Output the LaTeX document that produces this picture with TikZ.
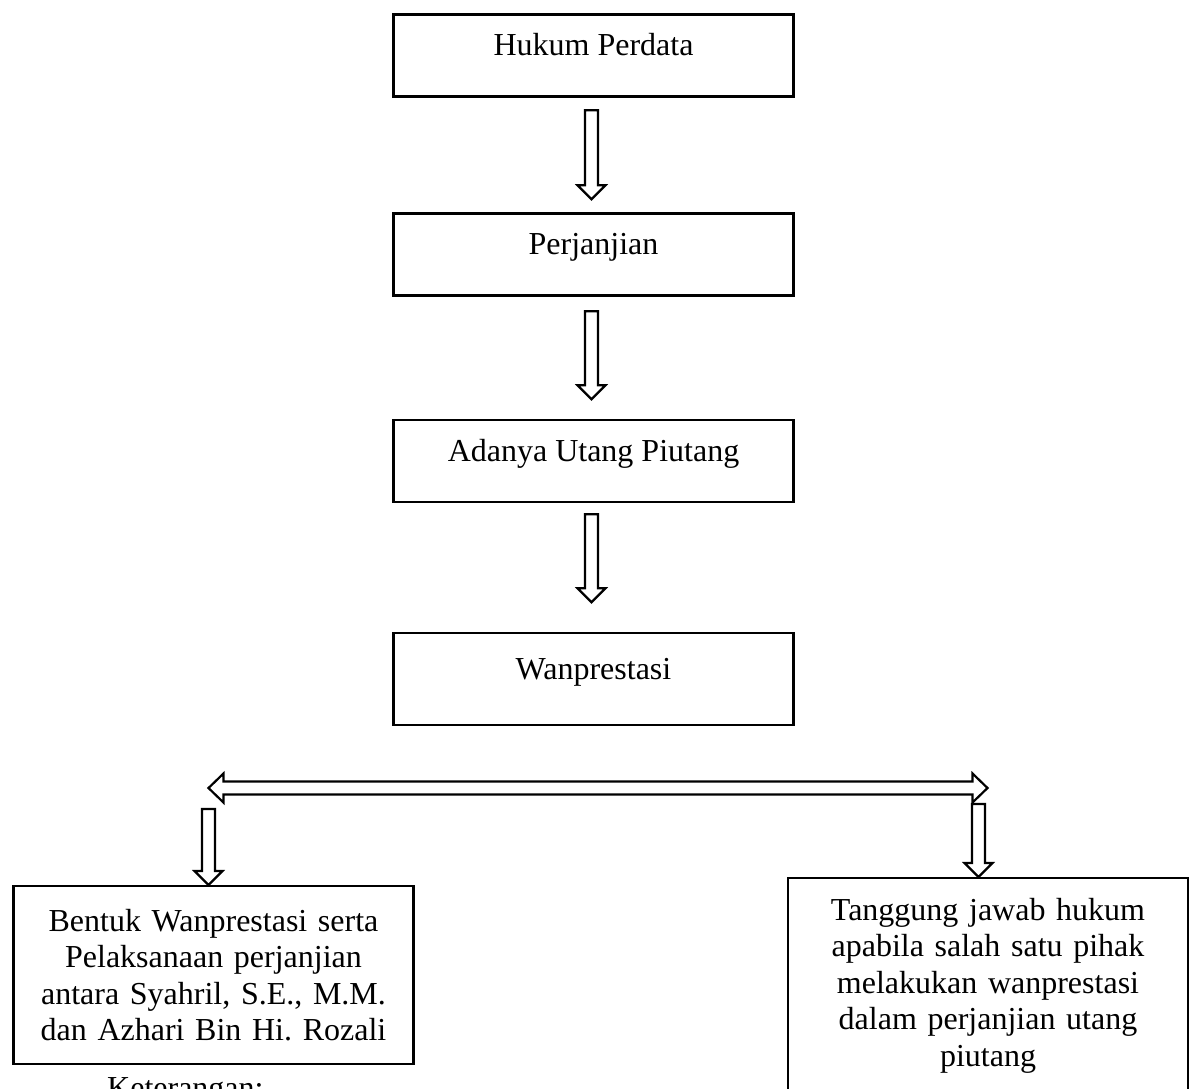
\documentclass[tikz,border=0pt]{standalone}
\usepackage{fontspec}
\setmainfont{Liberation Serif}
\usepackage{tikz}
\usetikzlibrary{calc}
\frenchspacing

\begin{document}
\begin{tikzpicture}[x=1pt, y=-1pt,
    every node/.style={font=\fontsize{32}{36.5}\selectfont},
    box/.style={draw, line width=2.5pt, minimum width=400pt, inner xsep=0pt, inner ysep=0pt, text height=41pt, text depth=41pt},
    bigbox/.style={draw, line width=2.5pt, text width=400pt, align=center, inner xsep=0pt, inner ysep=0pt},
    hollowdown/.style={line width=2.2pt, to path={let \p1=(\tikztostart), \p2=(\tikztotarget) in
        (\x1-6.5pt,\y1) -- (\x1+6.5pt,\y1) -- (\x1+6.5pt,\y2+14pt) -- (\x1+14pt,\y2+14pt) -- (\x1,\y2)
        -- (\x1-14pt,\y2+14pt) -- (\x1-6.5pt,\y2+14pt) -- cycle}},
    hollowboth/.style={line width=2.2pt, to path={let \p1=(\tikztostart), \p2=(\tikztotarget) in
        (\x1,\y1) -- (\x1+15pt,\y1+14.5pt) -- (\x1+15pt,\y1+6.5pt) -- (\x2-15pt,\y1+6.5pt) -- (\x2-15pt,\y1+14.5pt)
        -- (\x2,\y1) -- (\x2-15pt,\y1-14.5pt) -- (\x2-15pt,\y1-6.5pt) -- (\x1+15pt,\y1-6.5pt) -- (\x1+15pt,\y1-14.5pt) -- cycle}}]
    \useasboundingbox (0,0) rectangle (1190,1088);
    \node[box] (Hukum) at (593.5,55.5) {Hukum Perdata};
    \node[box] (Perjanjian) at (593.5,254.5) {Perjanjian};
    \node[box] (Utang) at (593.5,461) {Adanya Utang Piutang};
    \node[box, text height=46pt, text depth=46pt] (Wan) at (593.5,679) {Wanprestasi};
    \node[bigbox, minimum height=177.6pt] (Bentuk) at (213.5,975) {Bentuk Wanprestasi serta\\Pelaksanaan perjanjian\\antara Syahril, S.E., M.M.\\dan Azhari Bin Hi. Rozali};
    \node[bigbox, minimum height=214.6pt] (Tanggung) at (988,985.5) {Tanggung jawab hukum\\apabila salah satu pihak\\melakukan wanprestasi\\dalam perjanjian utang\\piutang};
    \node[anchor=base west, inner sep=0pt] (Ket) at (107,1098) {Keterangan:};
    \coordinate (Lend) at (208.5,788);
    \coordinate (Rend) at (987.5,788);
    \coordinate (Ltop) at (208.5,809);
    \coordinate (Rtop) at (978.5,804);
    \draw[hollowdown] ([shift={(-2,12.5)}]Hukum.south) to ([shift={(-2,-13)}]Perjanjian.north);
    \draw[hollowdown] ([shift={(-2,14.5)}]Perjanjian.south) to ([shift={(-2,-19.5)}]Utang.north);
    \draw[hollowdown] ([shift={(-2,11)}]Utang.south) to ([shift={(-2,-29.5)}]Wan.north);
    \draw[hollowboth] (Lend) to (Rend);
    \draw[hollowdown] (Ltop) to (Ltop |- Bentuk.north);
    \draw[hollowdown] (Rtop) to (Rtop |- Tanggung.north);
\end{tikzpicture}
\end{document}
